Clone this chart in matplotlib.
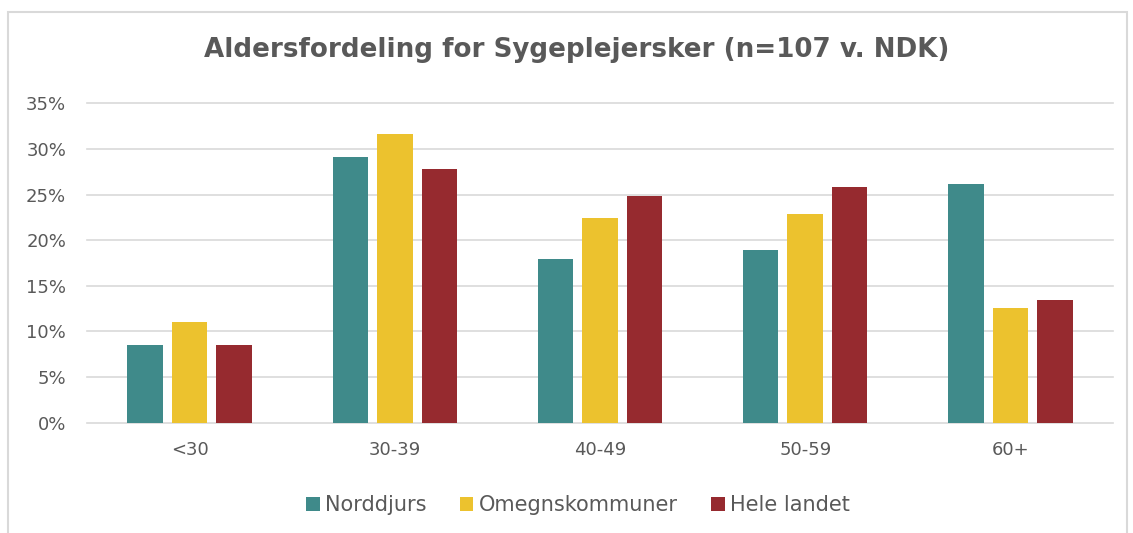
import matplotlib
matplotlib.use('Agg')
import matplotlib.pyplot as plt
import numpy as np
from matplotlib.patches import Rectangle

categories = ['<30', '30-39', '40-49', '50-59', '60+']
series = ['Norddjurs', 'Omegnskommuner', 'Hele landet']
norddjurs = [8.5, 29.1, 17.9, 18.9, 26.2]
omegn = [11.0, 31.6, 22.4, 22.9, 12.6]
hele = [8.5, 27.8, 24.8, 25.8, 13.4]
colors = ['#3F8A8A', '#ECC22E', '#962A2F']
yticks = [0, 5, 10, 15, 20, 25, 30, 35]

text_col = '#595959'
plt.rcParams['font.family'] = ['DejaVu Sans']

fig = plt.figure(figsize=(11.33, 5.33), dpi=100)
fig.patches.append(Rectangle((8 / 1133, -0.05), (1127 - 8) / 1133, 1 - 12 / 533 + 0.05,
                             transform=fig.transFigure, fill=False,
                             edgecolor='#D9D9D9', linewidth=1.5))

ax = fig.add_axes([87 / 1133, 1 - 422.5 / 533, (1113 - 87) / 1133, (422.5 - 103.3) / 533])

x = np.arange(len(categories))
w = 0.173
step = w + 0.044
for i, (vals, name) in enumerate(zip([norddjurs, omegn, hele], series)):
    ax.bar(x + (i - 1) * step, vals, w, color=colors[i], label=name, zorder=3)

ax.set_xlim(-0.5, len(categories) - 0.5)
ax.set_ylim(0, 35)
ax.set_yticks(yticks)
ax.set_yticklabels([f'{t}%' for t in yticks], fontsize=13, color=text_col)
ax.set_xticks(x)
ax.set_xticklabels(categories, fontsize=13, color=text_col)
ax.tick_params(axis='both', length=0)
ax.tick_params(axis='y', pad=15)
ax.tick_params(axis='x', pad=13)
ax.grid(axis='y', color='#D9D9D9', linewidth=1.2, zorder=0)
for gl in ax.get_ygridlines():
    gl.set_clip_on(False)
for s in ax.spines.values():
    s.set_visible(False)

fig.text(0.5 + 10 / 1133, 1 - 50 / 533, 'Aldersfordeling for Sygeplejersker (n=107 v. NDK)',
         ha='center', va='center', fontsize=18.8, fontweight='bold', color=text_col)

leg = fig.legend(loc='center', bbox_to_anchor=(578 / 1133, 1 - 505 / 533), ncol=3, frameon=False,
                 fontsize=15, handlelength=0.65, handleheight=0.65, handletextpad=0.25,
                 columnspacing=1.6)
for t in leg.get_texts():
    t.set_color(text_col)

fig.savefig('out.png', dpi=100)
